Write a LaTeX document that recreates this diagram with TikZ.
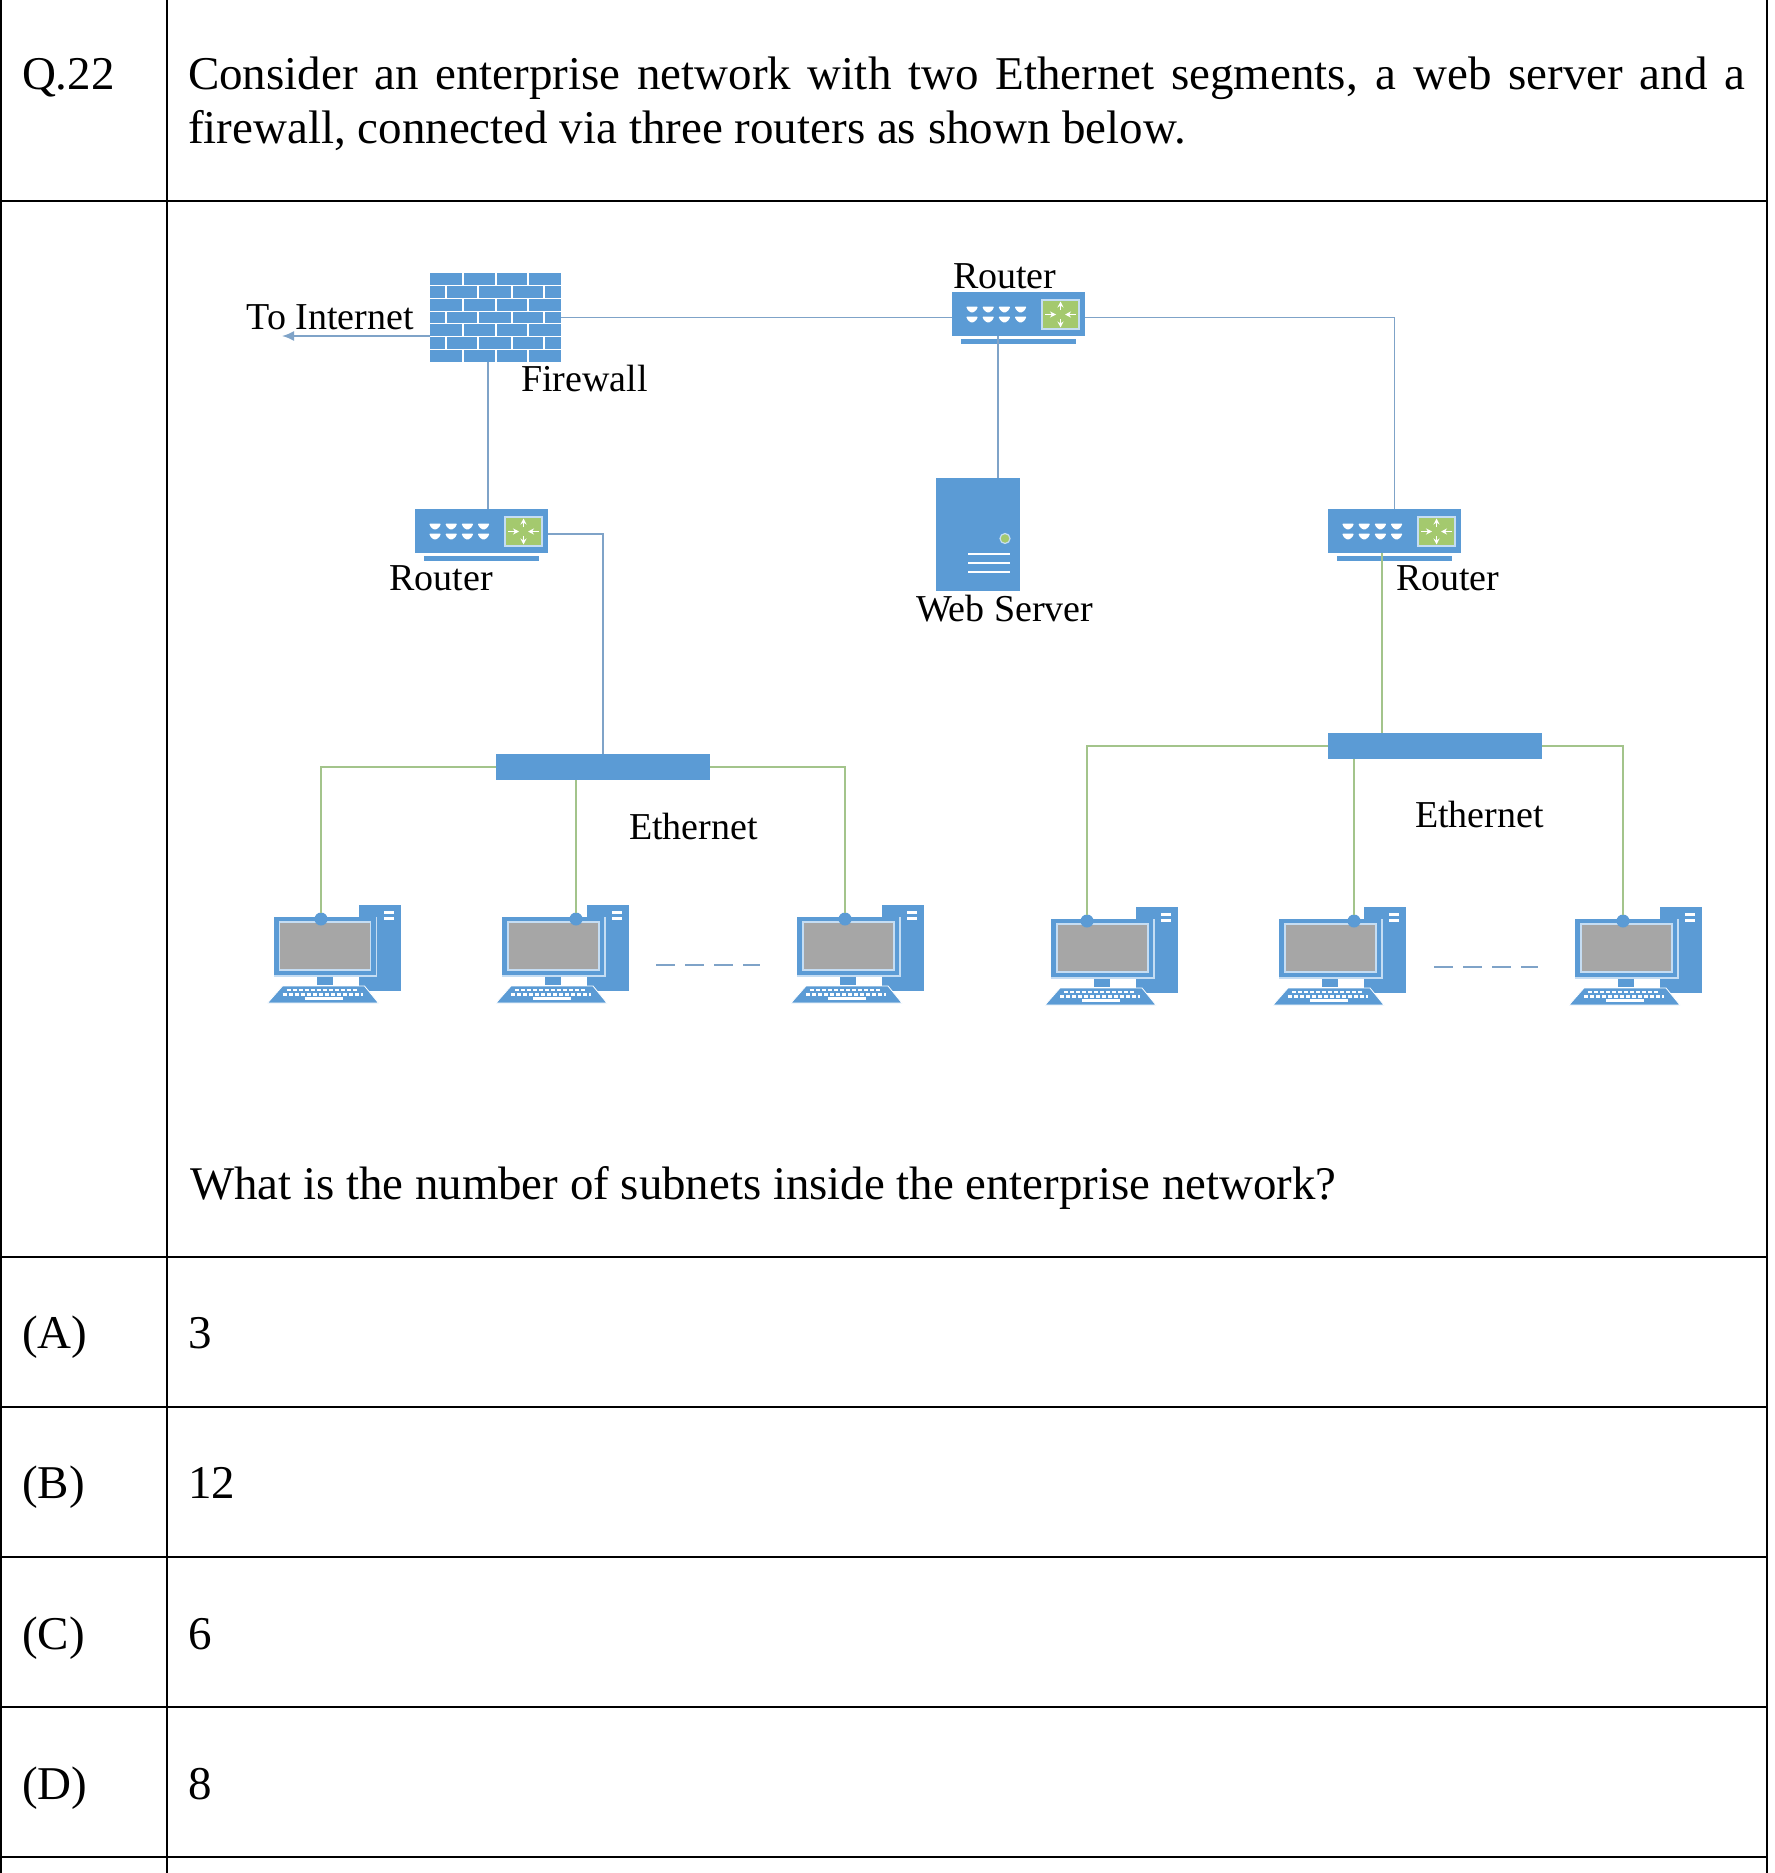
\documentclass[tikz,border=0pt]{standalone}
\usepackage{fontspec}
\setmainfont{Liberation Serif}
\usetikzlibrary{arrows.meta}
\definecolor{icon}{HTML}{5B9BD5}
\definecolor{lnblue}{HTML}{7FA3C8}
\definecolor{lngreen}{HTML}{A3C48B}
\definecolor{swgreen}{HTML}{A4C96E}
\definecolor{lite}{HTML}{C5DDF3}
\tikzset{
  tablerule/.style={draw=black,line width=0.9pt},
  bodytext/.style={anchor=base west,inner sep=0pt,outer sep=0pt,font=\fontsize{23.5pt}{27pt}\selectfont,text=black},
  label/.style={anchor=base west,inner sep=0pt,outer sep=0pt,font=\fontsize{19pt}{22pt}\selectfont,text=black},
  iconbox/.style={fill=icon,draw=none,inner sep=0pt,outer sep=0pt,anchor=north west},
  bluewire/.style={draw=lnblue,line width=0.9pt},
  greenwire/.style={draw=lngreen,line width=0.9pt},
  dashline/.style={draw=lnblue,line width=1pt,dash pattern=on 9.3pt off 5.2pt},
  keyrow/.style={draw=white,line width=1.4pt,dash pattern=on 2.2pt off 0.8pt},
  swarrow/.style={white,line width=0.6pt,-{Stealth[length=3pt,width=3pt]}},
}
% router: name, left, top
\newcommand{\routerbox}[3]{%
  \node[iconbox,minimum width=66.5pt,minimum height=22pt] (#1) at (#2,#3) {};
  \begin{scope}[shift={(#2,#3)}]
    \fill[icon] (9,47) rectangle (124,52);
    \foreach \i in {0,1,2,3}{
      \foreach \j in {0,1}{
        \fill[white,rounded corners=0.5pt] (14+16.2*\i,14.5+10*\j) -- ++(12,0) -- ++(-2,4) -- ++(-4,2.5) -- ++(-4,-2.5) -- cycle;
      }
    }
    \fill[swgreen,draw=lite,line width=0.7pt] (90,8) rectangle (127,37);
    \draw[swarrow] (108.5,18) -- (108.5,9.5);
    \draw[swarrow] (108.5,27) -- (108.5,35.5);
    \draw[swarrow] (93,22.5) -- (104,22.5);
    \draw[swarrow] (124,22.5) -- (113,22.5);
  \end{scope}
}
% computer: name, x of the icon's origin, y, x of the port dot
\newcommand{\computer}[4]{%
  \begin{scope}[shift={(#2,#3)}]
    \fill[icon] (38,-14) rectangle (80,72);
    \fill[white] (63,-8.5) rectangle (73,-5.5);
    \fill[white] (63,-2.5) rectangle (73,0.5);
    \fill[icon] (-47,-2) rectangle (56,57);
    \draw[lite,line width=0.7pt] (56,-2) -- (56,57) -- (-47,57);
    \fill[black!35,draw=lite,line width=0.9pt] (-41,3) rectangle (50,51);
    \fill[icon] (-4,58) rectangle (12,66);
    \fill[icon,draw=white,line width=0.4pt] (-38,67) -- (44,67) -- (58,84) -- (-53,84) -- cycle;
    \draw[keyrow] (-34,71) -- (37,71);
    \draw[keyrow] (-38,75.5) -- (42,75.5);
    \draw[white,line width=1.2pt] (-16,79.5) -- (22,79.5);
  \end{scope}
  \node[circle,fill=icon,minimum size=6.5pt,inner sep=0pt,outer sep=0pt] (#1) at (#4,#3) {};
}
\begin{document}
\begin{tikzpicture}[x=0.5pt,y=-0.5pt]
\useasboundingbox (0,0) rectangle (1774,1873);
\fill[white] (0,0) rectangle (1774,1873);

% table
\draw[tablerule] (1,0) -- (1,1873);
\draw[tablerule] (167,0) -- (167,1873);
\draw[tablerule] (1767,0) -- (1767,1873);
\foreach \yy in {201,1257,1407,1557,1707,1857}{
  \draw[tablerule] (0,\yy) -- (1767,\yy);
}

% question text
\node[bodytext] (qno) at (22,89.6) {Q.22};
\node[bodytext] (qline1) at (188,89.6) {\makebox[778.5pt][s]{Consider an enterprise network with two Ethernet segments, a web server and a}};
\node[bodytext] (qline2) at (188,143.8) {firewall, connected via three routers as shown below.};
\node[bodytext,font=\fontsize{23.43pt}{27pt}\selectfont] (qline3) at (190,1199) {What is the number of subnets inside the enterprise network?};
\node[bodytext] (la) at (22,1348.5) {(A)};
\node[bodytext] (va) at (188,1348.5) {3};
\node[bodytext] (lb) at (22,1498.5) {(B)};
\node[bodytext] (vb) at (188,1498.5) {12};
\node[bodytext] (lc) at (22,1649) {(C)};
\node[bodytext] (vc) at (188,1649) {6};
\node[bodytext] (ld) at (22,1799) {(D)};
\node[bodytext] (vd) at (188,1799) {8};

% firewall
\node[iconbox,minimum width=65.5pt,minimum height=44.5pt] (fw) at (430,273) {};
\foreach \k in {1,...,6}{
  \draw[white,line width=0.6pt] (430,273+12.71*\k) -- (561,273+12.71*\k);
}
\foreach \k in {0,2,4,6}{
  \foreach \xx in {463,496,528}{
    \draw[white,line width=0.6pt] (\xx,273+12.71*\k) -- (\xx,273+12.71*\k+12.71);
  }
}
\foreach \k in {1,3,5}{
  \foreach \xx in {446,478,512,544}{
    \draw[white,line width=0.6pt] (\xx,273+12.71*\k) -- (\xx,273+12.71*\k+12.71);
  }
}

% routers
\routerbox{rleft}{415}{509}
\routerbox{rtop}{952}{292}
\routerbox{rright}{1328}{509}

% web server
\node[iconbox,minimum width=42pt,minimum height=56.5pt] (srv) at (936,478) {};
\fill[swgreen,draw=lite,line width=0.6pt] (1005,538.5) circle (5);
\foreach \yy in {554,563,572}{
  \draw[white,line width=1.1pt] (968,\yy) -- (1010,\yy);
}

% hubs
\node[iconbox,minimum width=107pt,minimum height=13pt] (hubl) at (496,754) {};
\node[iconbox,minimum width=107pt,minimum height=13pt] (hubr) at (1328,733) {};

% computers
\computer{c1}{320.5}{919}{321}
\computer{c2}{549}{919}{576}
\computer{c3}{844}{919}{845}
\computer{c4}{1098}{921}{1087}
\computer{c5}{1326}{921}{1354}
\computer{c6}{1622}{921}{1623}

% connectors
\coordinate (net) at (282,336);
\draw[bluewire,-{Latex[length=6pt,width=5pt]}] (fw.west |- net) -- (net);
\draw[bluewire] ([yshift=-1.75pt]rtop.west -| fw.east) -- ([yshift=-1.75pt]rtop.west);
\draw[bluewire] ([yshift=-1.75pt]rtop.east) -| (rright.north);
\draw[bluewire] ([xshift=31pt]srv.north west) -- ([xshift=31pt]srv.north west |- rtop.south);
\draw[bluewire] ([xshift=29pt]fw.south west) -- ([xshift=29pt]fw.south west |- rleft.north);
\draw[bluewire] ([yshift=-1.5pt]rleft.east) -| (hubl.north);
\draw[greenwire] ([xshift=27pt]rright.south west) -- ([xshift=27pt]hubr.north west);
\draw[greenwire] (hubl.west) -| (c1.north);
\draw[greenwire] (hubl.east) -| (c3.north);
\draw[greenwire] (hubl.south -| c2.north) -- (c2.north);
\draw[greenwire] (hubr.west) -| (c4.north);
\draw[greenwire] (hubr.east) -| (c6.north);
\draw[greenwire] (hubr.south -| c5.north) -- (c5.north);

% dashes between computers
\coordinate (dl1) at (656,965);
\coordinate (dl2) at (760,965);
\coordinate (dr1) at (1434,967);
\coordinate (dr2) at (1538,967);
\draw[dashline] (dl1) -- (dl2);
\draw[dashline] (dr1) -- (dr2);

% labels
\node[label] (ltoint) at (246.5,329.5) {To Internet};
\node[label] (lfw) at (521,391.5) {Firewall};
\node[label] (lrl) at (389.5,590) {Router};
\node[label] (lrt) at (953,288.5) {Router};
\node[label] (lrr) at (1396,590) {Router};
\node[label] (lws) at (916,621) {Web Server};
\node[label] (lel) at (629,839) {Ethernet};
\node[label] (ler) at (1415,827) {Ethernet};
\end{tikzpicture}
\end{document}
